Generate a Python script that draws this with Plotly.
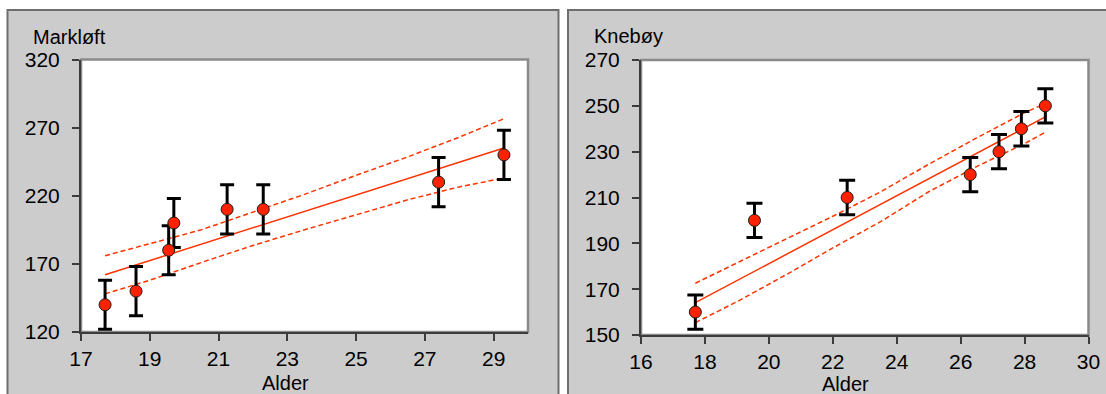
import plotly.graph_objects as go

W, H = 1106, 394

# ---------------- data ----------------
# Markløft panel
dl_age = [17.7, 18.6, 19.55, 19.7, 21.25, 22.3, 27.4, 29.3]
dl_val = [140, 150, 180, 200, 210, 210, 230, 250]
dl_err = [18, 18, 18, 18, 18, 18, 18, 18]
dl_fit_x = [17.7, 29.3]
dl_fit_y = [162, 255]
dl_band_x = [17.7, 19, 20.5, 22, 23.5, 25, 26.5, 28, 29.3]
dl_upper = [176, 185, 195, 208, 221, 235, 248.5, 263, 276.5]
dl_lower = [148, 158, 171, 183.5, 195, 206, 217, 226.5, 233]

# Knebøy panel
sq_age = [17.7, 19.55, 22.45, 26.3, 27.2, 27.9, 28.65]
sq_val = [160, 200, 210, 220, 230, 240, 250]
sq_err = [7.5, 7.5, 7.5, 7.5, 7.5, 7.5, 7.5]
sq_fit_x = [17.7, 28.65]
sq_fit_y = [164.1, 245.2]
sq_band_x = [17.7, 19, 20.5, 22, 23.5, 25, 26.5, 28, 28.65]
sq_upper = [172.6, 181.5, 191.5, 201.8, 212.5, 224.5, 236, 247, 251]
sq_lower = [155.4, 164.5, 176, 188, 199.5, 212.5, 223.5, 233.5, 238.5]

left_title = "Markløft"
right_title = "Knebøy"
x_title = "Alder"

# ---------------- styling ----------------
FONT = "Arial, Liberation Sans, sans-serif"
RED_LINE = "#ff3300"
RED_MARK = "#ff2200"
GREY = "#cccccc"


def px(x):
    return x / W


def py(y):
    return 1 - y / H


fig = go.Figure()

panels = [
    ("x", "y", dl_age, dl_val, dl_err, dl_fit_x, dl_fit_y, dl_band_x, dl_upper, dl_lower, 7),
    ("x2", "y2", sq_age, sq_val, sq_err, sq_fit_x, sq_fit_y, sq_band_x, sq_upper, sq_lower, 8),
]

for xa, ya, ax_, ay_, ae_, fx, fy, bx, bu, bl, cw in panels:
    fig.add_trace(go.Scatter(x=bx, y=bu, mode="lines", xaxis=xa, yaxis=ya,
                             line=dict(color=RED_LINE, width=1.5, dash="5px,3px"),
                             hoverinfo="skip", showlegend=False))
    fig.add_trace(go.Scatter(x=bx, y=bl, mode="lines", xaxis=xa, yaxis=ya,
                             line=dict(color=RED_LINE, width=1.5, dash="5px,3px"),
                             hoverinfo="skip", showlegend=False))
    fig.add_trace(go.Scatter(x=fx, y=fy, mode="lines", xaxis=xa, yaxis=ya,
                             line=dict(color=RED_LINE, width=1.5),
                             hoverinfo="skip", showlegend=False))
    fig.add_trace(go.Scatter(x=ax_, y=ay_, mode="markers", xaxis=xa, yaxis=ya,
                             marker=dict(size=12, color=RED_MARK,
                                         line=dict(color="#1a1a1a", width=1)),
                             error_y=dict(type="data", array=ae_, visible=True,
                                          color="black", thickness=3, width=cw),
                             showlegend=False))

shapes = []
shapes.append(dict(type="rect", xref="paper", yref="paper",
                   x0=px(7.5), x1=px(558.5), y0=py(410), y1=py(10),
                   fillcolor=GREY, line=dict(color="#6e6e6e", width=2), layer="below"))
shapes.append(dict(type="rect", xref="paper", yref="paper",
                   x0=px(568), x1=px(1120), y0=py(410), y1=py(10),
                   fillcolor=GREY, line=dict(color="#6e6e6e", width=2), layer="below"))

L_dom_x = [px(81), px(528)]
L_dom_y = [py(332), py(59.5)]
R_dom_x = [px(641), px(1088.5)]
R_dom_y = [py(335), py(60)]

for dx, dy in [(L_dom_x, L_dom_y), (R_dom_x, R_dom_y)]:
    shapes.append(dict(type="rect", xref="paper", yref="paper",
                       x0=dx[0], x1=dx[1], y0=dy[0], y1=dy[1],
                       fillcolor="white", line=dict(color="#8a8a8a", width=2.5),
                       layer="below"))

axis_common = dict(showgrid=False, zeroline=False, showline=True, automargin=False,
                   linecolor="#3c3c3c", linewidth=2, ticks="outside",
                   ticklen=7, tickwidth=1.5, tickcolor="#3c3c3c",
                   tickfont=dict(family=FONT, size=21, color="black"))

fig.update_layout(
    width=W, height=H,
    margin=dict(l=0, r=0, t=0, b=0, pad=0, autoexpand=False),
    paper_bgcolor="white",
    plot_bgcolor="rgba(0,0,0,0)",
    showlegend=False,
    shapes=shapes,
    xaxis=dict(domain=L_dom_x, range=[17, 30], tick0=17, dtick=2, anchor="y",
               **axis_common),
    yaxis=dict(domain=L_dom_y, range=[120, 320], tick0=120, dtick=50, anchor="x",
               ticklabelstandoff=8, **axis_common),
    xaxis2=dict(domain=R_dom_x, range=[16, 30], tick0=16, dtick=2, anchor="y2",
                **axis_common),
    yaxis2=dict(domain=R_dom_y, range=[150, 270], tick0=150, dtick=20, anchor="x2",
                ticklabelstandoff=8, **axis_common),
    annotations=[
        dict(text=left_title, xref="paper", yref="paper", x=px(31), y=py(37),
             xanchor="left", yanchor="middle", showarrow=False,
             font=dict(family=FONT, size=20, color="black")),
        dict(text=right_title, xref="paper", yref="paper", x=px(592), y=py(36),
             xanchor="left", yanchor="middle", showarrow=False,
             font=dict(family=FONT, size=20, color="black")),
        dict(text=x_title, xref="paper", yref="paper", x=px(285), y=py(383),
             xanchor="center", yanchor="middle", showarrow=False,
             font=dict(family=FONT, size=20, color="black")),
        dict(text=x_title, xref="paper", yref="paper", x=px(845), y=py(384),
             xanchor="center", yanchor="middle", showarrow=False,
             font=dict(family=FONT, size=20, color="black")),
    ],
)

fig.write_html("out.html")
